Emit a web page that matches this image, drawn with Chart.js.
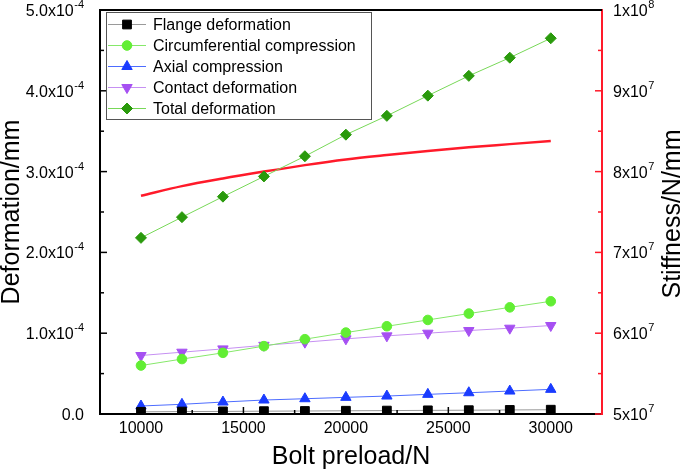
<!DOCTYPE html>
<html>
<head>
<meta charset="utf-8">
<script src="https://cdn.jsdelivr.net/npm/chart.js"></script>
<style>
  html, body { margin: 0; padding: 0; background: #fff; }
  #wrap { width: 685px; height: 473px; }
</style>
</head>
<body>
<div id="wrap"><canvas id="chart" width="685" height="473"></canvas></div>
<script>
// Bolt preload (N)
let preload = [10000, 12000, 14000, 16000, 18000, 20000, 22000, 24000, 26000, 28000, 30000];

// deformation, in units of 1e-4 mm (scaled below)
let flange = [0.027, 0.030, 0.032, 0.035, 0.037, 0.040, 0.042, 0.045, 0.047, 0.050, 0.053];
let circumferential = [0.60, 0.68, 0.757, 0.84, 0.926, 1.008, 1.086, 1.164, 1.243, 1.32, 1.395];
let axial = [0.099, 0.12, 0.148, 0.173, 0.189, 0.206, 0.222, 0.243, 0.263, 0.284, 0.305];
let contact = [0.724, 0.765, 0.806, 0.85, 0.889, 0.93, 0.967, 1.0, 1.033, 1.062, 1.095];
let total = [2.18, 2.436, 2.69, 2.94, 3.19, 3.457, 3.69, 3.94, 4.185, 4.41, 4.65];

// stiffness, N/mm
let stiffness = [7.70e7, 7.82e7, 7.915e7, 8.00e7, 8.08e7, 8.15e7, 8.205e7, 8.255e7, 8.30e7, 8.34e7, 8.38e7];

// tick values and labels (mantissa part + exponent part)
let xTicks = [10000, 15000, 20000, 25000, 30000];
let leftTicks = [0, 1e-4, 2e-4, 3e-4, 4e-4, 5e-4];
let leftTickBase = ['0.0', '1.0x10', '2.0x10', '3.0x10', '4.0x10', '5.0x10'];
let leftTickExp = ['', '-4', '-4', '-4', '-4', '-4'];
let rightTicks = [5e7, 6e7, 7e7, 8e7, 9e7, 1e8];
let rightTickBase = ['5x10', '6x10', '7x10', '8x10', '9x10', '1x10'];
let rightTickExp = ['7', '7', '7', '7', '7', '8'];

const FONT = "'Liberation Sans', Arial, sans-serif";
const RED = '#ff1a2a';

function toPoints(vals, scale) {
  return preload.map((x, i) => ({ x: x, y: vals[i] * scale }));
}

// inward ticks, minor ticks, and the top frame line
const innerTicks = {
  id: 'innerTicks',
  afterDatasetsDraw(chart) {
    let ctx = chart.ctx;
    let a = chart.chartArea;
    ctx.save();
    ctx.lineWidth = 1.5;

    function mark(scale, side, v, len) {
      let p = scale.getPixelForValue(v);
      ctx.beginPath();
      if (side === 'bottom') { ctx.moveTo(p, a.bottom); ctx.lineTo(p, a.bottom - len); }
      else if (side === 'left') { ctx.moveTo(a.left, p); ctx.lineTo(a.left + len, p); }
      else { ctx.moveTo(a.right, p); ctx.lineTo(a.right - len, p); }
      ctx.stroke();
    }
    function axisTicks(scale, side, color) {
      let vals = scale.ticks.map(t => t.value);
      ctx.strokeStyle = color;
      vals.forEach(v => mark(scale, side, v, 7));
      for (let i = 0; i < vals.length - 1; i++) {
        mark(scale, side, (vals[i] + vals[i + 1]) / 2, 4);
      }
    }
    axisTicks(chart.scales.x, 'bottom', '#000');
    axisTicks(chart.scales.y, 'left', '#000');
    axisTicks(chart.scales.y2, 'right', RED);

    ctx.strokeStyle = '#000';
    ctx.lineWidth = 2;
    ctx.beginPath();
    ctx.moveTo(a.left - 1, a.top);
    ctx.lineTo(a.right, a.top);
    ctx.stroke();
    ctx.restore();
  }
};

// y tick labels with a real superscript exponent
const sciLabels = {
  id: 'sciLabels',
  afterDraw(chart) {
    let ctx = chart.ctx;
    let a = chart.chartArea;
    ctx.save();
    ctx.fillStyle = '#000';
    ctx.textBaseline = 'alphabetic';

    function label(base, exp, x, y, alignRight) {
      ctx.font = '16px ' + FONT;
      let wb = ctx.measureText(base).width;
      ctx.font = '11px ' + FONT;
      let we = exp ? ctx.measureText(exp).width + 0.5 : 0;
      let x0 = alignRight ? x - wb - we : x;
      ctx.font = '16px ' + FONT;
      ctx.fillText(base, x0, y + 6);
      if (exp) {
        ctx.font = '11px ' + FONT;
        ctx.fillText(exp, x0 + wb + 0.5, y - 2);
      }
    }
    let ys = chart.scales.y;
    leftTicks.forEach((v, i) => label(leftTickBase[i], leftTickExp[i], a.left - 16, ys.getPixelForValue(v), true));
    let yr = chart.scales.y2;
    rightTicks.forEach((v, i) => label(rightTickBase[i], rightTickExp[i], a.right + 11, yr.getPixelForValue(v), false));
    ctx.restore();
  }
};

// legend inside the plot with a box, and the right axis title read bottom-up
const boxLegend = {
  id: 'boxLegend',
  afterDraw(chart) {
    let ctx = chart.ctx;
    let a = chart.chartArea;
    let items = chart.data.datasets.filter(d => !d.hideInLegend);
    let x0 = a.left + 6, y0 = a.top + 2;
    let w = 265, rowH = 21;
    let h = items.length * rowH + 2;

    ctx.save();
    ctx.fillStyle = '#fff';
    ctx.fillRect(x0, y0, w, h);
    ctx.strokeStyle = '#555';
    ctx.lineWidth = 1;
    ctx.strokeRect(x0 + 0.5, y0 + 0.5, w, h);

    items.forEach((d, i) => {
      let cy = y0 + 12.5 + i * rowH;
      ctx.strokeStyle = d.borderColor;
      ctx.lineWidth = 1;
      ctx.beginPath();
      ctx.moveTo(x0 + 2, cy);
      ctx.lineTo(x0 + 40, cy);
      ctx.stroke();

      ctx.fillStyle = d.pointBackgroundColor;
      ctx.strokeStyle = d.pointBorderColor;
      Chart.helpers.drawPoint(ctx, {
        pointStyle: d.pointStyle,
        rotation: d.pointRotation || 0,
        radius: d.pointRadius,
        borderWidth: 1
      }, x0 + 21, cy);

      ctx.fillStyle = '#000';
      ctx.font = '16px ' + FONT;
      ctx.textBaseline = 'middle';
      ctx.textAlign = 'left';
      ctx.fillText(d.label, x0 + 47, cy + 1);
    });

    ctx.translate(673, (a.top + a.bottom) / 2 + 2);
    ctx.rotate(-Math.PI / 2);
    ctx.fillStyle = '#000';
    ctx.font = '25px ' + FONT;
    ctx.textAlign = 'center';
    ctx.textBaseline = 'middle';
    ctx.fillText('Stiffness/N/mm', 0, 0);
    ctx.restore();
  }
};

function fixY(width) {
  return axis => { axis.width = width; axis.paddingTop = 0; axis.paddingBottom = 0; };
}

let ctx = document.getElementById('chart').getContext('2d');
let chart = new Chart(ctx, {
  type: 'line',
  data: {
    datasets: [
      {
        label: 'Flange deformation',
        data: toPoints(flange, 1e-4),
        borderColor: '#9a9a9a',
        borderWidth: 1,
        pointStyle: 'rect',
        pointRadius: 6.2,
        pointBackgroundColor: '#000',
        pointBorderColor: '#000',
        pointBorderWidth: 1
      },
      {
        label: 'Circumferential compression',
        data: toPoints(circumferential, 1e-4),
        borderColor: '#86e86a',
        borderWidth: 1,
        pointStyle: 'circle',
        pointRadius: 4.8,
        pointBackgroundColor: '#62ee34',
        pointBorderColor: '#62ee34',
        pointBorderWidth: 1
      },
      {
        label: 'Axial compression',
        data: toPoints(axial, 1e-4),
        borderColor: '#4d6cff',
        borderWidth: 1,
        pointStyle: 'triangle',
        pointRadius: 6,
        pointBackgroundColor: '#1a3cff',
        pointBorderColor: '#1a3cff',
        pointBorderWidth: 1
      },
      {
        label: 'Contact deformation',
        data: toPoints(contact, 1e-4),
        borderColor: '#c690f2',
        borderWidth: 1,
        pointStyle: 'triangle',
        pointRotation: 180,
        pointRadius: 6,
        pointBackgroundColor: '#a650f2',
        pointBorderColor: '#a650f2',
        pointBorderWidth: 1
      },
      {
        label: 'Total deformation',
        data: toPoints(total, 1e-4),
        borderColor: '#78d858',
        borderWidth: 1,
        pointStyle: 'rectRot',
        pointRadius: 5.5,
        pointBackgroundColor: '#2a9a0c',
        pointBorderColor: '#2a9a0c',
        pointBorderWidth: 1
      },
      {
        label: 'Stiffness',
        hideInLegend: true,
        data: toPoints(stiffness, 1),
        yAxisID: 'y2',
        borderColor: RED,
        borderWidth: 2.5,
        pointRadius: 0,
        cubicInterpolationMode: 'monotone'
      }
    ]
  },
  options: {
    responsive: false,
    animation: false,
    layout: { padding: { top: 10, left: 0, right: 0, bottom: 0 } },
    plugins: {
      legend: { display: false },
      tooltip: { enabled: false }
    },
    scales: {
      x: {
        type: 'linear',
        min: 8000,
        max: 32500,
        afterBuildTicks: axis => { axis.ticks = xTicks.map(v => ({ value: v })); },
        afterFit: axis => { axis.height = 59; axis.paddingLeft = 0; axis.paddingRight = 0; },
        grid: { display: false, drawTicks: false },
        border: { display: true, color: '#000', width: 2 },
        ticks: {
          color: '#000',
          padding: 5,
          maxRotation: 0,
          font: { family: FONT, size: 16 },
          callback: (v) => String(v)
        },
        title: {
          display: true,
          text: 'Bolt preload/N',
          color: '#000',
          padding: { top: 0, bottom: 1 },
          font: { family: FONT, size: 25 }
        }
      },
      y: {
        position: 'left',
        min: 0,
        max: 5e-4,
        afterBuildTicks: axis => { axis.ticks = leftTicks.map(v => ({ value: v })); },
        afterFit: fixY(100),
        grid: { display: false, drawTicks: false },
        border: { display: true, color: '#000', width: 2 },
        ticks: { display: false },
        title: {
          display: true,
          text: 'Deformation/mm',
          color: '#000',
          padding: { top: 0, bottom: 0 },
          font: { family: FONT, size: 25, lineHeight: 1 }
        }
      },
      y2: {
        position: 'right',
        min: 5e7,
        max: 1e8,
        afterBuildTicks: axis => { axis.ticks = rightTicks.map(v => ({ value: v })); },
        afterFit: fixY(83),
        grid: { display: false, drawTicks: false },
        border: { display: true, color: RED, width: 2 },
        ticks: { display: false }
      }
    }
  },
  plugins: [innerTicks, sciLabels, boxLegend]
});
</script>
</body>
</html>
